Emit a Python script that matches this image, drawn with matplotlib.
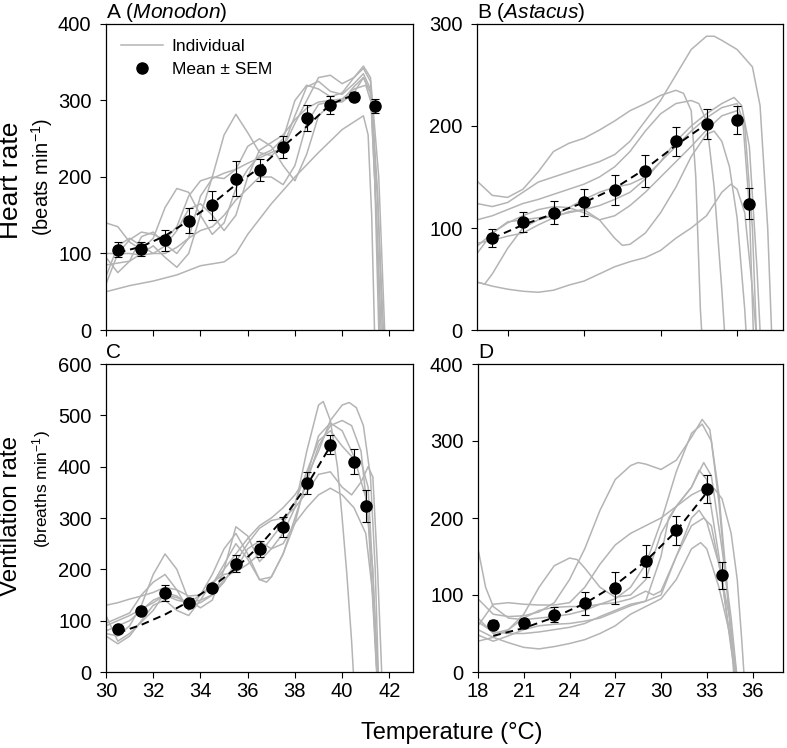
import numpy as np
import matplotlib
matplotlib.use("Agg")
import matplotlib.pyplot as plt
from matplotlib.lines import Line2D

plt.rcParams['font.family'] = ['Liberation Sans', 'DejaVu Sans']
plt.rcParams['mathtext.fontset'] = 'custom'
plt.rcParams['mathtext.rm'] = 'Liberation Sans'
plt.rcParams['mathtext.it'] = 'Liberation Sans:italic'

GREY = '#b4b4b4'

# ---- A: Monodon heart rate ----
mono_t = [30.5, 31.5, 32.5, 33.5, 34.5, 35.5, 36.5, 37.5, 38.5, 39.5, 40.5, 41.4]
mono_hr = [105, 106, 117, 143, 163, 198, 209, 239, 277, 294, 305, 293]
mono_hr_sem = [10, 9, 14, 16, 19, 23, 14, 14, 17, 12, 6, 9]
mono_hr_fit_t = [30.5, 31.5, 32.5, 33.5, 34.5, 35.5, 36.5, 37.5, 38.5, 39.5, 40.3]
mono_hr_fit = [101, 109, 123, 143, 165, 190, 212, 240, 266, 295, 305]
mono_hr_ind = [
    ([30, 31, 32, 33, 34, 35, 35.5, 36, 37, 38, 39, 40, 40.9, 41.1, 41.25, 41.37, 41.45],
     [50, 58, 64, 72, 84, 89, 100, 125, 165, 200, 232, 262, 280, 255, 150, 0, -60]),
    ([30, 31, 32, 32.5, 33, 33.5, 34, 34.5, 35, 35.5, 36, 36.5, 37, 37.5, 38, 38.5, 39, 39.5, 40, 40.5, 40.9, 41.2, 41.45, 41.6, 41.7],
     [85, 90, 110, 95, 82, 100, 150, 200, 255, 282, 258, 232, 228, 240, 280, 318, 325, 312, 308, 322, 335, 315, 150, 0, -60]),
    ([30, 30.5, 31, 31.5, 32, 32.5, 33, 33.5, 34, 34.5, 35, 35.5, 36, 36.5, 37, 37.5, 38, 38.5, 39, 39.5, 40, 40.5, 40.9, 41.2, 41.5, 41.7, 41.8],
     [140, 135, 115, 105, 120, 160, 185, 180, 150, 125, 140, 185, 210, 228, 235, 250, 300, 320, 315, 305, 310, 330, 342, 325, 180, 0, -60]),
    ([30, 30.5, 31, 31.5, 32, 32.5, 33, 33.5, 34, 34.5, 35, 35.5, 36, 36.5, 37, 37.5, 38, 38.5, 39, 39.5, 40, 40.5, 40.9, 41.2, 41.55, 41.8, 41.9],
     [95, 75, 90, 122, 128, 112, 100, 120, 175, 198, 205, 210, 218, 225, 232, 238, 270, 300, 330, 333, 322, 330, 345, 330, 200, 0, -60]),
    ([30, 30.5, 31, 31.5, 32, 32.5, 33, 33.5, 34, 34.5, 35, 35.5, 36, 36.5, 37, 37.5, 38, 38.5, 39, 39.5, 40, 40.5, 40.9, 41.2, 41.5, 41.75, 41.85],
     [60, 100, 118, 128, 125, 118, 135, 175, 195, 200, 198, 210, 240, 250, 240, 215, 195, 230, 280, 295, 300, 318, 330, 310, 170, 0, -60]),
    ([30, 30.5, 31, 31.5, 32, 32.5, 33, 33.5, 34, 34.5, 35, 35.5, 36, 36.5, 37, 37.5, 38, 38.5, 39, 39.5, 40, 40.5, 40.9, 41.2, 41.5, 41.65, 41.75],
     [70, 110, 120, 110, 100, 100, 108, 120, 130, 135, 150, 170, 185, 200, 200, 190, 215, 270, 295, 298, 298, 310, 330, 310, 120, 0, -60]),
    ([30, 31, 31.5, 32, 32.5, 33, 33.5, 34, 34.5, 35, 35.5, 36, 36.5, 37, 37.5, 38, 38.5, 39, 39.5, 40, 40.5, 41, 41.3, 41.55, 41.65],
     [100, 100, 98, 100, 110, 130, 158, 165, 150, 130, 150, 200, 235, 245, 255, 275, 290, 298, 300, 302, 315, 320, 290, 0, -60]),
]

# ---- B: Astacus heart rate ----
ast_t = [19, 21, 23, 25, 27, 29, 31, 33, 35, 35.8]
ast_hr = [90, 106, 115, 125, 137, 156, 185, 202, 206, 124]
ast_hr_sem = [9, 10, 11, 13, 14.5, 15.5, 14, 14.5, 14, 15]
ast_hr_fit_t = [19, 21, 23, 25, 27, 29, 31, 33]
ast_hr_fit = [90, 103, 114, 125, 139, 158, 181, 202]
ast_hr_ind = [
    ([18, 19, 20, 21, 22, 23, 24, 25, 26, 27, 28, 29, 30, 31, 31.5, 32, 32.3, 32.6, 32.8],
     [146, 132, 130, 138, 155, 175, 183, 188, 196, 205, 215, 222, 230, 235, 232, 215, 150, 20, -30]),
    ([18, 19, 20, 21, 22, 23, 24, 25, 26, 27, 28, 29, 30, 31, 32, 33, 33.5, 34, 35, 36, 36.5, 37, 37.3],
     [124, 121, 125, 135, 145, 150, 155, 160, 165, 172, 185, 205, 225, 250, 275, 288, 288, 284, 275, 258, 220, 100, -20]),
    ([18, 19, 20, 21, 22, 23, 24, 25, 26, 27, 28, 29, 30, 31, 32, 32.5, 33, 33.5, 34, 34.3],
     [108, 112, 118, 124, 128, 133, 138, 143, 150, 160, 175, 195, 212, 222, 225, 222, 205, 140, 40, -30]),
    ([18, 19, 20, 21, 22, 23, 24, 25, 26, 27, 28, 29, 30, 31, 32, 33, 34, 34.8, 35.3, 35.8, 36.3, 36.6],
     [75, 95, 106, 108, 110, 112, 115, 118, 122, 128, 135, 148, 165, 185, 200, 212, 222, 228, 220, 180, 60, -30]),
    ([18, 18.5, 19, 20, 21, 22, 23, 24, 25, 26, 27, 28, 29, 30, 31, 32, 33, 34, 35, 35.5, 36, 36.3],
     [47, 45, 55, 80, 100, 108, 112, 120, 128, 135, 140, 143, 150, 165, 180, 195, 208, 218, 222, 200, 100, -20]),
    ([18, 19, 20, 21, 22, 23, 24, 25, 26, 27, 27.5, 28, 29, 30, 31, 32, 33, 33.5, 34, 34.5, 35, 35.5, 35.7],
     [85, 88, 92, 95, 103, 110, 116, 118, 108, 90, 83, 84, 95, 115, 140, 170, 192, 195, 185, 160, 110, 20, -30]),
    ([18, 19, 20, 21, 22, 23, 24, 25, 26, 27, 28, 29, 30, 31, 32, 33, 34, 34.6, 35, 35.5, 36, 36.4],
     [47, 43, 40, 38, 37, 39, 44, 48, 55, 62, 67, 71, 78, 90, 100, 112, 135, 143, 138, 115, 40, -30]),
    ([18, 19, 20, 21, 22, 23, 24, 25, 26, 27, 28, 29, 30, 31, 32, 33, 34, 35, 35.4, 35.8, 36.1],
     [82, 95, 105, 112, 118, 121, 120, 115, 108, 112, 122, 135, 150, 165, 180, 196, 210, 215, 200, 120, -20]),
]

# ---- C: Monodon ventilation rate ----
mono_vt = [30.5, 31.5, 32.5, 33.5, 34.5, 35.5, 36.5, 37.5, 38.5, 39.5, 40.5, 41.0]
mono_vr = [84, 118, 154, 134, 164, 211, 240, 282, 368, 443, 410, 324]
mono_vr_sem = [5, 6, 15, 6, 8, 16, 15, 19, 21, 18, 24, 31]
mono_vr_fit_t = [30.5, 31.5, 32.5, 33.5, 34.5, 35.5, 36.5, 37.5, 38.5, 39.5]
mono_vr_fit = [76, 92, 112, 137, 166, 202, 246, 298, 363, 440]
mono_vr_ind = [
    ([30, 30.5, 31, 31.5, 32, 32.5, 33, 33.5, 34, 34.5, 35, 35.5, 36, 36.5, 37, 37.5, 38, 38.5, 39, 39.2, 39.5, 39.8, 40, 40.2, 40.4, 40.5],
     [75, 70, 90, 130, 190, 230, 200, 140, 125, 140, 200, 283, 265, 215, 240, 270, 320, 430, 520, 527, 490, 400, 300, 190, 60, -20]),
    ([30, 30.5, 31, 31.5, 32, 32.5, 33, 33.5, 34, 34.5, 35, 35.5, 36, 36.5, 37, 37.5, 38, 38.5, 39, 39.5, 40, 40.3, 40.6, 40.9, 41.2, 41.4, 41.55],
     [130, 135, 142, 148, 155, 165, 160, 148, 150, 170, 200, 230, 260, 285, 300, 320, 345, 380, 430, 490, 520, 525, 515, 480, 380, 200, -30]),
    ([30, 31, 31.5, 32, 32.5, 33, 33.5, 34, 34.5, 35, 35.5, 36, 36.5, 37, 37.5, 38, 38.5, 39, 39.5, 40, 40.4, 40.8, 41.1, 41.4, 41.5],
     [95, 115, 150, 175, 190, 160, 120, 150, 190, 240, 270, 230, 180, 185, 230, 300, 370, 440, 480, 490, 480, 430, 300, 50, -30]),
    ([30, 31, 32, 32.5, 33, 33.5, 34, 34.5, 35, 35.5, 36, 36.5, 37, 37.5, 38, 38.5, 39, 39.5, 40, 40.4, 40.8, 41.1, 41.3, 41.5, 41.7],
     [80, 100, 140, 150, 140, 135, 140, 150, 175, 215, 250, 280, 295, 300, 320, 350, 385, 390, 360, 345, 370, 400, 380, 200, -30]),
    ([30, 30.5, 31, 32, 32.5, 33, 33.5, 34, 34.5, 35, 35.5, 36, 36.5, 37, 37.5, 38, 38.5, 39, 39.5, 40, 40.5, 41, 41.3, 41.5],
     [110, 60, 75, 120, 155, 148, 130, 135, 150, 180, 200, 240, 255, 240, 250, 290, 320, 345, 358, 345, 320, 270, 150, -30]),
    ([30, 30.5, 31, 31.5, 32, 32.5, 33, 33.5, 34, 34.5, 35, 35.5, 36, 36.5, 37, 37.5, 38, 38.5, 39, 39.5, 40, 40.4, 40.8, 41.1, 41.4, 41.55],
     [70, 55, 70, 100, 130, 140, 120, 110, 140, 175, 190, 195, 210, 230, 260, 290, 330, 390, 450, 470, 440, 420, 410, 360, 100, -30]),
    ([30, 31, 32, 32.5, 33, 33.5, 34, 34.5, 35, 35.5, 36, 36.5, 36.8, 37, 37.5, 38, 38.5, 39, 39.5, 40, 40.5, 41, 41.3, 41.5],
     [90, 110, 135, 150, 145, 135, 150, 170, 210, 250, 220, 180, 175, 185, 230, 290, 380, 460, 485, 470, 420, 340, 200, -30]),
]

# ---- D: Astacus ventilation rate ----
ast_vt = [19, 21, 23, 25, 27, 29, 31, 33, 34]
ast_vr = [61.5, 63, 74.5, 89, 109, 144, 184, 238, 125.5]
ast_vr_sem = [6, 5, 10, 15, 21, 21, 19, 18, 18]
ast_vr_fit_t = [19, 21, 23, 25, 27, 29, 31, 33]
ast_vr_fit = [47, 57, 71, 89, 113, 144, 183, 233]
ast_vr_ind = [
    ([18, 19, 20, 21, 22, 23, 24, 25, 26, 27, 28, 28.5, 29, 30, 31, 32, 32.7, 33.2, 33.8, 34.3, 34.8],
     [95, 75, 72, 73, 78, 90, 120, 160, 210, 250, 268, 272, 270, 263, 275, 305, 328, 315, 230, 120, -10]),
    ([18, 18.5, 19, 20, 21, 22, 23, 24, 25, 26, 27, 28, 29, 30, 31, 32, 32.7, 33.3, 33.8, 34.3, 34.9],
     [160, 110, 85, 70, 68, 70, 72, 75, 80, 88, 95, 110, 140, 195, 260, 310, 322, 300, 220, 110, -10]),
    ([18, 19, 20, 21, 22, 23, 24, 24.5, 25, 26, 27, 28, 29, 30, 31, 32, 32.8, 33.3, 34, 34.6, 35],
     [70, 50, 55, 75, 110, 138, 148, 146, 135, 110, 97, 100, 120, 180, 215, 240, 272, 255, 160, 70, -10]),
    ([18, 19, 20, 21, 22, 23, 24, 25, 26, 27, 28, 29, 30, 31, 32, 33, 33.5, 34, 34.6, 35, 35.3, 35.5],
     [60, 88, 90, 88, 87, 87, 90, 110, 140, 165, 180, 190, 200, 215, 230, 240, 238, 225, 180, 120, 40, -20]),
    ([18, 19, 20, 21, 22, 23, 24, 25, 26, 27, 28, 29, 29.5, 30, 31, 32, 32.5, 33, 33.8, 34.5, 35],
     [40, 45, 55, 70, 80, 84, 85, 85, 88, 90, 95, 105, 100, 105, 150, 200, 210, 195, 140, 70, -10]),
    ([18, 19, 20, 21, 22, 23, 24, 25, 26, 27, 28, 29, 30, 31, 32, 32.6, 33, 33.8, 34.5, 35],
     [55, 45, 38, 32, 30, 33, 37, 42, 50, 60, 75, 85, 95, 120, 160, 168, 160, 110, 50, -10]),
    ([18, 19, 20, 21, 22, 23, 24, 25, 26, 27, 28, 29, 30, 31, 32, 32.8, 33.3, 34, 34.7, 35],
     [65, 52, 50, 50, 52, 55, 58, 63, 72, 80, 88, 92, 100, 150, 190, 200, 190, 120, 20, -20]),
    ([18, 19, 20, 21, 22, 23, 24, 25, 26, 27, 28, 29, 30, 30.5, 31, 32, 32.5, 33, 33.8, 34.6, 35],
     [48, 40, 47, 55, 60, 62, 63, 66, 70, 78, 86, 92, 150, 200, 215, 240, 262, 250, 150, 30, -20]),
]

fig = plt.figure(figsize=(7.87, 7.48), dpi=100)
W, H = 787.0, 748.0


def make_ax(left, top, right, bottom):
    return fig.add_axes([left / W, 1 - bottom / H, (right - left) / W, (bottom - top) / H])


axA = make_ax(106, 24, 413, 330)
axB = make_ax(477, 24, 783, 330)
axC = make_ax(106, 364, 413, 672)
axD = make_ax(478, 364, 783, 672)


def draw(ax, ind, t, m, sem, ft, fv):
    for xs, ys in ind:
        ax.plot(xs, ys, color=GREY, lw=1.1, zorder=1)
    ax.plot(ft, fv, color='black', lw=1.4, ls=(0, (4, 2.5)), zorder=3)
    ax.errorbar(t, m, yerr=sem, fmt='o', color='black', ms=8, capsize=3,
                elinewidth=0.8, capthick=0.8, zorder=5)
    ax.tick_params(direction='out', length=4.5, width=0.8, labelsize=14.5)
    ax.tick_params(axis='y', pad=6)
    ax.tick_params(axis='x', pad=3)
    for s in ax.spines.values():
        s.set_linewidth(0.9)


draw(axA, mono_hr_ind, mono_t, mono_hr, mono_hr_sem, mono_hr_fit_t, mono_hr_fit)
draw(axB, ast_hr_ind, ast_t, ast_hr, ast_hr_sem, ast_hr_fit_t, ast_hr_fit)
draw(axC, mono_vr_ind, mono_vt, mono_vr, mono_vr_sem, mono_vr_fit_t, mono_vr_fit)
draw(axD, ast_vr_ind, ast_vt, ast_vr, ast_vr_sem, ast_vr_fit_t, ast_vr_fit)

for ax in (axA, axC):
    ax.set_xlim(30, 43)
    ax.set_xticks([30, 32, 34, 36, 38, 40, 42])
for ax in (axB, axD):
    ax.set_xlim(18, 38)
axB.set_xticks([20, 25, 30, 35])
axD.set_xticks([18, 21, 24, 27, 30, 33, 36])
axA.tick_params(labelbottom=False)
axB.tick_params(labelbottom=False)

axA.set_ylim(0, 400)
axA.set_yticks([0, 100, 200, 300, 400])
axB.set_ylim(0, 300)
axB.set_yticks([0, 100, 200, 300])
axC.set_ylim(0, 600)
axC.set_yticks([0, 100, 200, 300, 400, 500, 600])
axD.set_ylim(0, 400)
axD.set_yticks([0, 100, 200, 300, 400])

# panel letters
axA.text(0, 1.02, r'A ($\mathit{Monodon}$)', transform=axA.transAxes, fontsize=15, va='baseline')
axB.text(0, 1.02, r'B ($\mathit{Astacus}$)', transform=axB.transAxes, fontsize=15, va='baseline')
axC.text(0, 1.02, 'C', transform=axC.transAxes, fontsize=15, va='baseline')
axD.text(0, 1.02, 'D', transform=axD.transAxes, fontsize=15, va='baseline')

# y labels
fig.text(11 / W, 1 - 122 / H, 'Heart rate', rotation=90, fontsize=19, ha='center', va='top')
fig.text(42 / W, 1 - 118 / H, r'(beats min$^{-1}$)', rotation=90, fontsize=14.5, ha='center', va='top')
fig.text(11 / W, 1 - 436 / H, 'Ventilation rate', rotation=90, fontsize=17.5, ha='center', va='top')
fig.text(42 / W, 1 - 430 / H, r'(breaths min$^{-1}$)', rotation=90, fontsize=12.5, ha='center', va='top')

# x label
fig.text(452 / W, 1 - 733 / H, 'Temperature (°C)', fontsize=17, ha='center', va='center')

handles = [Line2D([], [], color=GREY, lw=1.1),
           Line2D([], [], color='black', marker='o', ls='none', ms=8)]
axA.legend(handles, ['Individual', 'Mean ± SEM'], loc='upper left',
           bbox_to_anchor=(0.01, 0.99), frameon=False, fontsize=12.5,
           handlelength=2.4, handletextpad=0.5, labelspacing=0.45, borderpad=0.2)

fig.savefig('out.png', dpi=100)
